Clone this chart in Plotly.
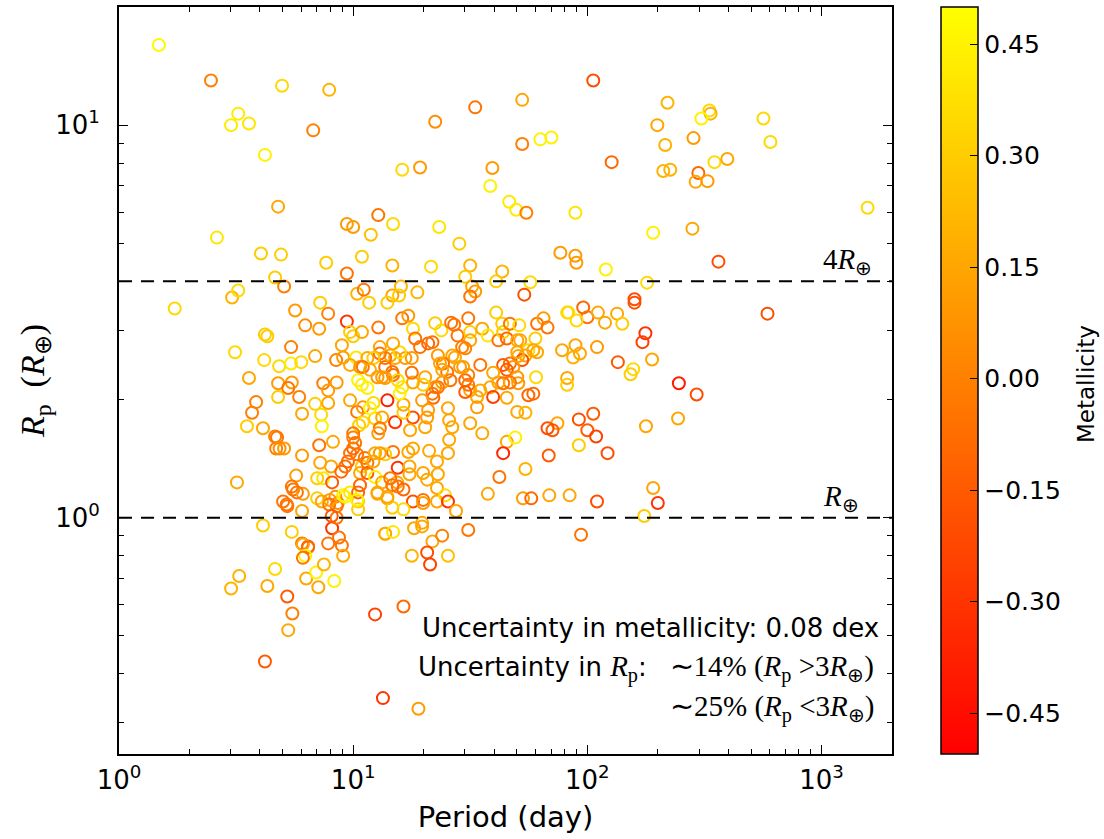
import numpy as np
import plotly.graph_objects as go

# ---------------- data ----------------
period = [
    1.48, 2.47, 4.97, 7.9, 3.23, 3.01, 3.59, 6.75, 4.2, 16.2, 4.78, 9.4, 10.0, 12.8, 14.8, 11.9, 2.62, 4.04, 4.92, 7.67,
    10.9, 14.7, 9.4, 4.64, 5.07, 33.2, 22.4, 52.7, 52.7, 63, 70.2, 106, 127, 19.3, 39.3, 38.5, 46.4, 49.7, 54.9, 88.9,
    23.3, 28.4, 76.7, 88.9, 89.8, 120, 191, 281, 363, 1573, 220, 199, 215, 284, 332, 336, 307, 565, 605, 211,
    226, 298, 290, 326, 349, 396, 180, 21.5, 31.6, 30.1, 43.3, 40.8, 57.1, 16.0, 18.8, 14.7, 15.7, 32.2, 33.2, 31.6,
    53.8, 159, 3.04, 3.23, 1.73, 10.4, 11.1, 11.7, 7.23, 5.65, 7.82, 14.0, 6.24, 7.16, 9.4, 12.8, 9.7, 4.2, 4.3, 3.13,
    4.17, 4.83, 5.43, 6.0, 5.43, 6.88, 8.46, 9.06, 10.3, 9.7, 10.7, 3.59, 4.78, 5.47, 5.28, 5.88, 4.78, 3.85, 3.7, 6.05,
    3.52, 4.12, 4.64, 4.73, 4.69, 5.07, 4.85, 6.05, 6.88, 7.3, 7.35, 7.82, 7.45, 7.82, 8.5, 9.7, 8.2, 7.16, 7.23, 8.05,
    5.71, 7.02, 7.45, 3.19, 5.54, 6.1, 8.13, 8.4, 8.6, 5.02, 5.23, 7.02, 7.35, 7.9, 8.5, 9.24, 10.5, 10.5, 12.7, 14.0,
    15.4, 14.7, 4.12, 5.47, 8.13, 8.7, 6.05, 6.42, 7.82, 8.95, 13.7, 10.0, 10.9, 8.95, 11.5, 10.4, 11.0, 10.6, 11.0, 10.0,
    10.5, 10.9, 11.5, 11.0, 40.8, 16.2, 17.2, 18.0, 18.4, 22.4, 23.8, 26.2, 27.0, 27.9, 31.0, 31.6, 31.6, 35.6, 37.6, 41.7,
    43.3, 43.7, 45.3, 46.7, 51.2, 50.2, 51.7, 61, 65, 67.6, 60, 82, 78, 82, 82, 56, 58.8, 61, 54.4, 52.7,
    60.4, 56, 58.8, 50.2, 50.7, 46.7, 48.3, 45.3, 43.7, 50.2, 50.7, 46.7, 39.6, 41.7, 43.7, 38.5, 39.6, 45.3, 50.2, 54.4,
    34.9, 33.8, 33.8, 31.6, 30.1, 31.0, 31.0, 30.1, 28.6, 29.5, 26.5, 27.2, 24.2, 23.0, 25.2, 26.0, 24.0, 23.0, 22.4, 21.8,
    22.0, 20.3, 19.9, 25.4, 25.7, 26.5, 31.6, 19.7, 20.9, 20.7, 18.0, 15.1, 16.4, 14.0, 12.4, 13.3, 13.0, 17.5, 20.3, 16.4,
    14.7, 14.8, 13.7, 15.5, 16.2, 15.8, 18.0, 24.0, 23.5, 14.4, 15.1, 13.0, 13.7, 16.7, 17.8, 15.8, 14.8, 13.0, 19.3, 20.9,
    21.8, 12.2, 13.3, 13.7, 12.7, 11.8, 12.2, 11.8, 17.8, 34.9, 29.2, 30.1, 74.5, 71, 67.6, 6.1, 6.42, 6.24, 6.1, 4.64,
    3.26, 3.01, 4.3, 5.23, 6.3, 6.95, 7.5, 7.1, 8.3, 9.06, 6.05, 7.95, 8.5, 9.06, 9.7, 5.47, 5.75, 8.9, 9.25, 9.5,
    9.7, 10.0, 10.2, 10.0, 10.4, 10.9, 10.7, 11.5, 10.7, 10.5, 10.4, 11.2, 11.5, 8.1, 5.2, 12.8, 35.6, 45.3, 49.2, 43.7,
    68.4, 25.7, 25.4, 21.1, 17.2, 18.0, 14.8, 13.7, 13.0, 12.4, 12.2, 22.8, 15.5, 17.4, 17.4, 19.9, 20.7, 23.0, 12.4, 13.3,
    14.4, 14.7, 15.5, 16.4, 22.8, 12.7, 14.0, 18.0, 19.9, 19.9, 22.8, 24.7, 25.4, 27.5, 16.4, 37.6, 42.1, 54.4, 53.1, 57.6,
    68.8, 84, 13.7, 14.8, 18.2, 19.7, 19.7, 21.8, 24.0, 31, 20.7, 21.3, 17.8, 25.4, 588, 159, 96, 100, 83, 90,
    111, 119, 134, 141, 177, 172, 89, 110, 87, 93, 135, 189, 157, 153, 246, 293, 244, 178, 92, 106,
    100, 109, 122, 92, 110, 191, 200, 175, 94, 5.5, 5.28, 4.2, 12.4, 16.4, 13.4, 19.0,
]

radius = [
    16.0, 13.0, 12.6, 12.3, 10.7, 10.0, 10.1, 9.7, 8.4, 7.7, 6.2, 5.6, 5.5, 5.9, 5.6, 5.26, 5.17, 4.71, 4.68, 4.46,
    4.62, 4.39, 4.19, 4.09, 3.88, 11.1, 10.2, 11.6, 8.95, 9.2, 9.3, 13.0, 8.05, 7.8, 7.78, 7.0, 6.38, 6.09, 5.98, 5.98,
    5.5, 4.99, 4.73, 4.65, 4.46, 4.29, 5.32, 5.45, 4.49, 6.16, 11.4, 10.0, 8.9, 9.27, 10.9, 10.7, 10.4, 10.4, 9.06, 7.64,
    7.7, 7.55, 7.17, 7.2, 8.05, 8.2, 3.97, 4.36, 4.39, 4.11, 4.24, 4.0, 3.98, 3.88, 3.75, 3.68, 3.68, 3.88, 3.77, 3.66,
    3.7, 3.6, 3.64, 3.79, 3.41, 3.72, 3.81, 3.53, 3.53, 3.37, 3.31, 3.53, 3.09, 3.03, 3.16, 3.05, 2.97, 2.93, 2.9, 2.64,
    2.52, 2.43, 2.47, 2.49, 2.72, 2.58, 2.52, 2.56, 2.56, 2.45, 2.42, 2.27, 2.2, 2.21, 2.14, 2.03, 2.03, 1.97, 1.85, 1.84,
    1.71, 1.69, 1.61, 1.6, 1.5, 1.5, 1.5, 1.44, 1.95, 1.83, 1.71, 1.96, 2.2, 2.11, 2.21, 1.99, 1.56, 1.53, 1.38, 1.35,
    1.28, 1.26, 1.26, 1.23, 1.18, 1.15, 1.23, 1.13, 1.09, 1.1, 1.07, 1.12, 1.1, 1.08, 1.07, 1.13, 1.1, 1.05, 1.15, 1.12,
    1.23, 1.06, 0.955, 0.92, 0.94, 0.89, 0.86, 0.845, 0.86, 0.85, 0.91, 2.9, 2.97, 2.75, 2.55, 1.86, 1.91, 1.72, 1.75, 1.64,
    2.24, 2.18, 2.14, 2.42, 3.33, 3.22, 3.27, 3.03, 2.86, 3.13, 3.0, 3.14, 3.1, 2.91, 3.22, 2.97, 2.83, 3.03, 2.91, 2.83,
    3.12, 2.97, 2.86, 3.12, 3.09, 2.83, 2.83, 3.12, 3.22, 3.05, 2.86, 3.33, 2.67, 2.27, 2.18, 2.67, 2.67, 2.64, 2.59, 2.52,
    2.28, 2.05, 2.07, 2.64, 2.58, 2.47, 2.42, 2.38, 2.45, 2.28, 2.2, 2.21, 2.34, 2.21, 2.2, 2.15, 2.03, 2.02, 1.86, 1.85,
    2.11, 2.03, 1.91, 2.11, 2.24, 2.31, 2.18, 2.09, 2.42, 2.42, 2.59, 2.56, 2.47, 2.59, 2.35, 2.24, 2.21, 2.15, 2.15, 2.07,
    2.02, 2.28, 2.18, 1.9, 1.77, 1.7, 1.74, 1.99, 1.88, 1.8, 1.8, 1.75, 1.85, 1.99, 1.79, 1.8, 1.69, 1.67, 1.7, 1.94,
    2.35, 2.31, 2.42, 2.24, 2.15, 2.07, 2.21, 2.38, 2.47, 2.59, 2.55, 2.62, 2.55, 2.55, 2.55, 2.64, 2.78, 2.72, 2.72, 2.78,
    2.8, 2.55, 2.28, 2.27, 2.28, 2.38, 1.96, 1.9, 2.34, 2.45, 2.72, 2.7, 1.74, 1.67, 1.69, 0.854, 0.84, 0.8, 0.79, 0.74,
    0.71, 0.66, 0.67, 0.63, 0.70, 0.725, 0.76, 0.665, 0.69, 0.8, 1.04, 1.11, 1.0, 1.14, 1.16, 1.2, 1.16, 1.31, 1.35, 1.39,
    1.46, 1.5, 1.55, 1.6, 1.45, 1.35, 1.3, 1.3, 1.21, 1.16, 1.11, 1.42, 1.38, 1.01, 1.08, 1.64, 1.64, 1.56, 1.6, 1.46,
    1.44, 1.58, 1.46, 1.48, 1.47, 1.5, 1.47, 1.45, 1.46, 1.46, 1.39, 1.39, 1.34, 1.35, 1.29, 1.3, 1.25, 1.29, 1.27, 1.23,
    1.26, 1.21, 1.2, 1.18, 1.19, 1.16, 1.13, 1.1, 1.11, 1.09, 1.1, 1.14, 1.1, 1.04, 1.05, 1.15, 1.27, 1.33, 1.12, 1.12,
    1.14, 1.14, 0.91, 0.92, 0.94, 0.95, 0.97, 0.87, 0.9, 0.93, 0.815, 0.76, 0.8, 0.8, 3.31, 3.53, 3.43, 3.24, 3.33, 3.18,
    3.33, 3.14, 3.31, 3.12, 2.95, 2.8, 2.75, 2.72, 2.56, 2.62, 2.49, 2.53, 2.39, 2.32, 2.2, 2.06, 1.79, 1.71, 1.78, 1.84,
    1.67, 1.61, 1.46, 1.53, 1.1, 1.19, 1.09, 1.01, 0.905, 0.57, 0.517, 0.43, 0.567, 0.594, 0.347, 0.326,
]

metallicity = [
    0.48, 0.0, 0.35, 0.2, 0.42, 0.42, 0.4, 0.0, 0.45, 0.35, 0.15, 0.1, 0.1, -0.05, 0.35, 0.25, 0.4, 0.3, 0.3, 0.3,
    0.3, 0.2, -0.05, 0.3, 0.0, -0.05, 0.05, 0.15, 0.0, 0.45, 0.45, -0.2, -0.1, 0.1, 0.1, 0.45, 0.42, 0.42, 0.0, 0.4,
    0.4, 0.3, 0.1, 0.1, 0.1, 0.45, 0.45, 0.15, -0.2, 0.35, 0.2, 0.15, 0.2, 0.1, 0.35, 0.2, 0.45, 0.35, 0.35, 0.2,
    0.2, -0.1, 0.15, 0.1, 0.35, 0.15, 0.35, 0.35, 0.2, 0.3, 0.2, 0.3, 0.35, 0.2, 0.2, 0.15, 0.3, 0.15, 0.1, -0.05,
    -0.2, -0.2, 0.2, 0.35, 0.35, 0.2, -0.05, 0.3, 0.3, 0.1, 0.0, 0.3, 0.05, 0.1, -0.3, -0.05, 0.3, 0.3, 0.3, 0.35,
    0.35, 0.35, 0.42, 0.35, 0.0, 0.15, 0.0, 0.1, 0.4, 0.15, 0.1, 0.15, 0.1, 0.1, -0.05, 0.0, 0.3, 0.0, 0.0, 0.15,
    0.3, 0.15, 0.0, -0.05, 0.0, 0.1, 0.05, 0.1, 0.3, 0.35, 0.45, 0.15, 0.0, 0.1, 0.1, 0.15, 0.15, -0.05, 0.15, 0.15,
    0.1, 0.3, 0.4, 0.15, -0.05, 0.1, -0.15, 0.05, 0.05, -0.05, -0.05, 0.3, 0.15, -0.05, -0.05, 0.45, 0.3, 0.3, 0.15, 0.15,
    0.15, 0.3, 0.3, 0.3, -0.3, -0.05, -0.05, -0.1, -0.05, -0.05, 0.3, 0.3, 0.15, 0.15, 0.15, -0.05, 0.1, 0.3, 0.35, -0.05,
    0.45, 0.45, 0.45, -0.05, 0.3, -0.05, 0.1, 0.35, -0.05, 0.3, 0.35, -0.05, -0.05, -0.05, -0.05, 0.3, 0.15, 0.15, 0.4, -0.05,
    0.3, 0.3, -0.1, -0.05, 0.35, 0.15, 0.15, -0.05, 0.1, -0.05, 0.3, 0.35, 0.15, 0.15, 0.3, 0.35, 0.15, 0.15, 0.15, -0.2,
    0.35, -0.1, -0.1, 0.15, 0.15, -0.05, 0.1, -0.15, -0.15, 0.1, 0.1, -0.05, 0.15, 0.15, -0.05, 0.15, -0.25, 0.15, 0.15, 0.2,
    0.15, 0.15, 0.1, 0.15, -0.1, 0.0, -0.05, -0.15, 0.1, 0.1, 0.15, 0.15, -0.05, 0.1, -0.05, -0.05, 0.1, -0.05, 0.05, -0.05,
    -0.1, 0.15, 0.3, 0.15, 0.15, 0.15, 0.15, 0.1, 0.1, 0.1, -0.2, -0.3, 0.3, -0.4, 0.3, 0.15, -0.05, 0.15, 0.15, 0.15,
    -0.05, -0.05, -0.05, 0.35, 0.4, 0.45, 0.15, 0.15, 0.15, 0.15, 0.15, -0.05, -0.05, 0.1, 0.1, 0.35, 0.15, 0.15, -0.05, -0.1,
    -0.05, 0.3, 0.1, 0.1, 0.1, 0.15, 0.35, 0.45, -0.05, -0.05, 0.0, 0.0, 0.15, -0.15, -0.2, 0.15, -0.1, 0.45, -0.05, 0.35,
    0.2, 0.2, 0.15, -0.15, 0.15, 0.45, 0.2, 0.15, 0.45, 0.15, 0.15, 0.1, -0.05, 0.45, 0.4, -0.05, -0.05, -0.1, -0.05, -0.1,
    -0.05, -0.1, -0.05, 0.0, -0.05, 0.3, 0.15, -0.15, -0.1, -0.1, 0.45, -0.05, -0.05, -0.15, -0.05, 0.1, 0.15, 0.15, 0.45, -0.35,
    -0.15, 0.15, 0.15, 0.15, 0.15, 0.15, -0.05, 0.3, 0.1, 0.15, 0.15, 0.15, -0.3, 0.15, 0.15, 0.15, 0.15, 0.15, 0.45, 0.15,
    -0.05, -0.05, -0.05, -0.1, 0.15, 0.15, 0.15, -0.2, -0.05, 0.1, 0.15, 0.35, -0.3, 0.15, 0.35, 0.15, -0.05, 0.2, 0.1, -0.1,
    0.15, 0.15, 0.15, 0.4, 0.15, 0.15, 0.15, 0.15, 0.0, -0.05, -0.2, -0.25, 0.2, 0.25, -0.2, -0.2, -0.1, -0.05, 0.35, 0.35,
    0.15, 0.15, 0.15, 0.3, -0.3, -0.25, 0.15, 0.1, 0.2, 0.15, -0.15, 0.15, 0.35, 0.3, -0.4, -0.2, 0.15, 0.15, -0.2, -0.15,
    -0.15, -0.25, -0.2, 0.3, -0.2, 0.15, -0.3, 0.3, -0.05, 0.0, 0.15, -0.15, -0.25, -0.1, -0.3, 0.1,
]

x_tick_vals = [1, 10, 100, 1000]
x_tick_text = ["10<sup>0</sup>", "10<sup>1</sup>", "10<sup>2</sup>", "10<sup>3</sup>"]
y_tick_vals = [1, 10]
y_tick_text = ["10<sup>0</sup>", "10<sup>1</sup>"]
cbar_tick_vals = [-0.45, -0.30, -0.15, 0.00, 0.15, 0.30, 0.45]
cbar_tick_text = ["\u22120.45", "\u22120.30", "\u22120.15", "0.00", "0.15", "0.30", "0.45"]
ref_lines = [1, 4]

x_minor = [m * 10 ** d for d in range(0, 3) for m in range(2, 10)]
y_minor = [0.3, 0.4, 0.5, 0.6, 0.7, 0.8, 0.9, 2, 3, 4, 5, 6, 7, 8, 9, 20]

SERIF = "Liberation Serif"
SANS = "DejaVu Sans"

fig = go.Figure()
fig.add_trace(go.Scatter(
    x=period, y=radius, mode="markers",
    marker=dict(
        symbol="circle-open", size=12,
        color=metallicity, cmin=-0.505, cmax=0.5,
        colorscale=[[0, "rgb(255,0,0)"], [1, "rgb(255,255,0)"]],
        line=dict(width=2),
        showscale=True,
        colorbar=dict(
            x=(941 - 119) / 773, xanchor="left", xref="paper",
            y=0.5, yanchor="middle", len=1.0, lenmode="fraction",
            thickness=37, xpad=0, ypad=0,
            outlinecolor="black", outlinewidth=1.5,
            tickmode="array", tickvals=cbar_tick_vals, ticktext=cbar_tick_text,
            ticks="inside", ticklen=8, tickwidth=1.2, tickcolor="black",
            tickfont=dict(family=SANS, size=25, color="black"),
        ),
    ),
    showlegend=False, hoverinfo="x+y",
))

for r in ref_lines:
    fig.add_shape(type="line", xref="paper", x0=0, x1=1, yref="y", y0=r, y1=r,
                  line=dict(color="black", width=2, dash="13px,9px"))

def px_x(px):
    return (px - 119) / 773

def px_y(py):
    return (754 - py) / 749

# colorbar label
fig.add_annotation(x=px_x(1086), y=px_y(383), xref="paper", yref="paper",
                   text="Metallicity", textangle=-90, showarrow=False,
                   xanchor="center", yanchor="middle",
                   font=dict(family=SANS, size=23, color="black"))

fig.add_annotation(x=px_x(874), xref="paper", y=np.log10(4), yref="y",
                   text="4<i>R</i><sub>\u2295</sub>", showarrow=False,
                   xanchor="right", yanchor="bottom", yshift=0,
                   font=dict(family=SERIF, size=29, color="black"))
fig.add_annotation(x=px_x(861), xref="paper", y=np.log10(1), yref="y",
                   text="<i>R</i><sub>\u2295</sub>", showarrow=False,
                   xanchor="right", yanchor="bottom", yshift=0,
                   font=dict(family=SERIF, size=29, color="black"))

sp = '<span style="font-family:Liberation Serif;font-size:29px">'
fig.add_annotation(x=px_x(881), y=px_y(628), xref="paper", yref="paper",
                   text="Uncertainty in metallicity: 0.08 dex", showarrow=False,
                   xanchor="right", yanchor="middle",
                   font=dict(family=SANS, size=26, color="black"))
fig.add_annotation(x=px_x(876), y=px_y(668), xref="paper", yref="paper",
                   text=("Uncertainty in " + sp + "<i>R</i><sub>p</sub></span>: "
                         + sp + "  \u223c14% (<i>R</i><sub>p</sub> &gt;3<i>R</i><sub>\u2295</sub>)</span>"),
                   showarrow=False, xanchor="right", yanchor="middle",
                   font=dict(family=SANS, size=26, color="black"))
fig.add_annotation(x=px_x(876), y=px_y(708), xref="paper", yref="paper",
                   text=(sp + "\u223c25% (<i>R</i><sub>p</sub> &lt;3<i>R</i><sub>\u2295</sub>)</span>"),
                   showarrow=False, xanchor="right", yanchor="middle",
                   font=dict(family=SERIF, size=29, color="black"))

axis_common = dict(
    type="log", showgrid=False, zeroline=False,
    showline=True, linecolor="black", linewidth=2, mirror="allticks",
    ticks="inside", ticklen=9, tickwidth=1.3, tickcolor="black",
    tickfont=dict(family=SANS, size=26, color="black"),
)

fig.update_layout(
    width=1104, height=839,
    margin=dict(l=119, r=212, t=5, b=85),
    paper_bgcolor="white", plot_bgcolor="white",
    font=dict(family=SANS, color="black"),
    xaxis=dict(
        **axis_common,
        range=[0, np.log10(2000)],
        tickmode="array", tickvals=x_tick_vals, ticktext=x_tick_text,
        ticklabelstandoff=2,
        minor=dict(ticks="inside", ticklen=5, tickwidth=1.2, tickcolor="black",
                   tickmode="array", tickvals=x_minor, showgrid=False),
        title=dict(text="Period (day)", font=dict(family=SANS, size=29, color="black"), standoff=12),
    ),
    yaxis=dict(
        **axis_common,
        range=[np.log10(0.25), np.log10(20)],
        tickmode="array", tickvals=y_tick_vals, ticktext=y_tick_text,
        ticklabelstandoff=12,
        minor=dict(ticks="inside", ticklen=5, tickwidth=1.2, tickcolor="black",
                   tickmode="array", tickvals=y_minor, showgrid=False),
        title=dict(text="<i>R</i><sub>p</sub>  (<i>R</i><sub>\u2295</sub>)",
                   font=dict(family=SERIF, size=34, color="black"), standoff=0),
    ),
)

fig.write_html("out.html", config={"displayModeBar": False},
               post_script="document.body.style.margin='0px';")
